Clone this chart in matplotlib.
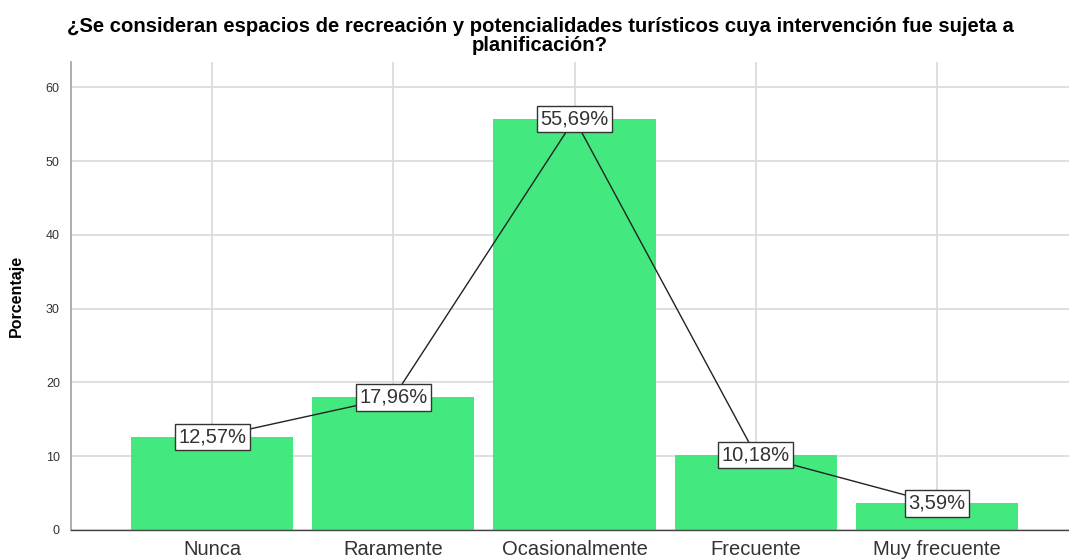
import matplotlib
matplotlib.use("Agg")
import matplotlib.pyplot as plt
import numpy as np

categories = ['Nunca', 'Raramente', 'Ocasionalmente', 'Frecuente', 'Muy frecuente']
percentages = [12.57, 17.96, 55.69, 10.18, 3.59]
yticks = [0, 10, 20, 30, 40, 50, 60]

TITLE = ('¿Se consideran espacios de recreación y potencialidades turísticos cuya intervención fue sujeta a\n'
         'planificación?')
BAR_COLOR = '#43e97f'

plt.rcParams['font.family'] = ['Liberation Sans', 'DejaVu Sans']

fig = plt.figure(figsize=(10.69, 5.60), dpi=100)
ax = fig.add_axes([0.0664, 0.0536, 0.9336, 0.8354])

x = np.arange(len(categories))
ax.bar(x, percentages, width=0.895, color=BAR_COLOR, zorder=2)
ax.plot(x, percentages, color='#222222', lw=1.0, zorder=3)

for xi, v in zip(x, percentages):
    ax.text(xi, v, f"{v:.2f}%".replace('.', ','), ha='center', va='center',
            fontsize=14.5, color='#333333', zorder=4,
            bbox=dict(boxstyle='square,pad=0.18', fc='white', ec='#333333', lw=1.0))

ax.set_xlim(-0.78, 4.73)
ax.set_ylim(0, 63.4)
ax.set_yticks(yticks)
ax.set_xticks(x)
ax.set_xticklabels(categories, fontsize=14.5, color='#333333')
ax.tick_params(axis='y', length=0, pad=8, labelsize=9, labelcolor='#333333')
ax.tick_params(axis='x', length=0, pad=7)

ax.grid(True, color='#d9d9d9', lw=1.2, zorder=0)
ax.set_axisbelow(True)

for s in ['top', 'right']:
    ax.spines[s].set_visible(False)
ax.spines['left'].set_color('#a0a0a0')
ax.spines['left'].set_linewidth(1.2)
ax.spines['bottom'].set_color('#444444')
ax.spines['bottom'].set_linewidth(1.0)

ax.set_ylabel('Porcentaje', fontsize=11.5, fontweight='bold', labelpad=16)
fig.text(0.5 * (57 + 1023) / 1069, 1 - 36 / 560, TITLE, ha='center', va='center',
         fontsize=14.6, fontweight='bold', linespacing=1.0)

fig.savefig('out.png', dpi=100, facecolor='white')
